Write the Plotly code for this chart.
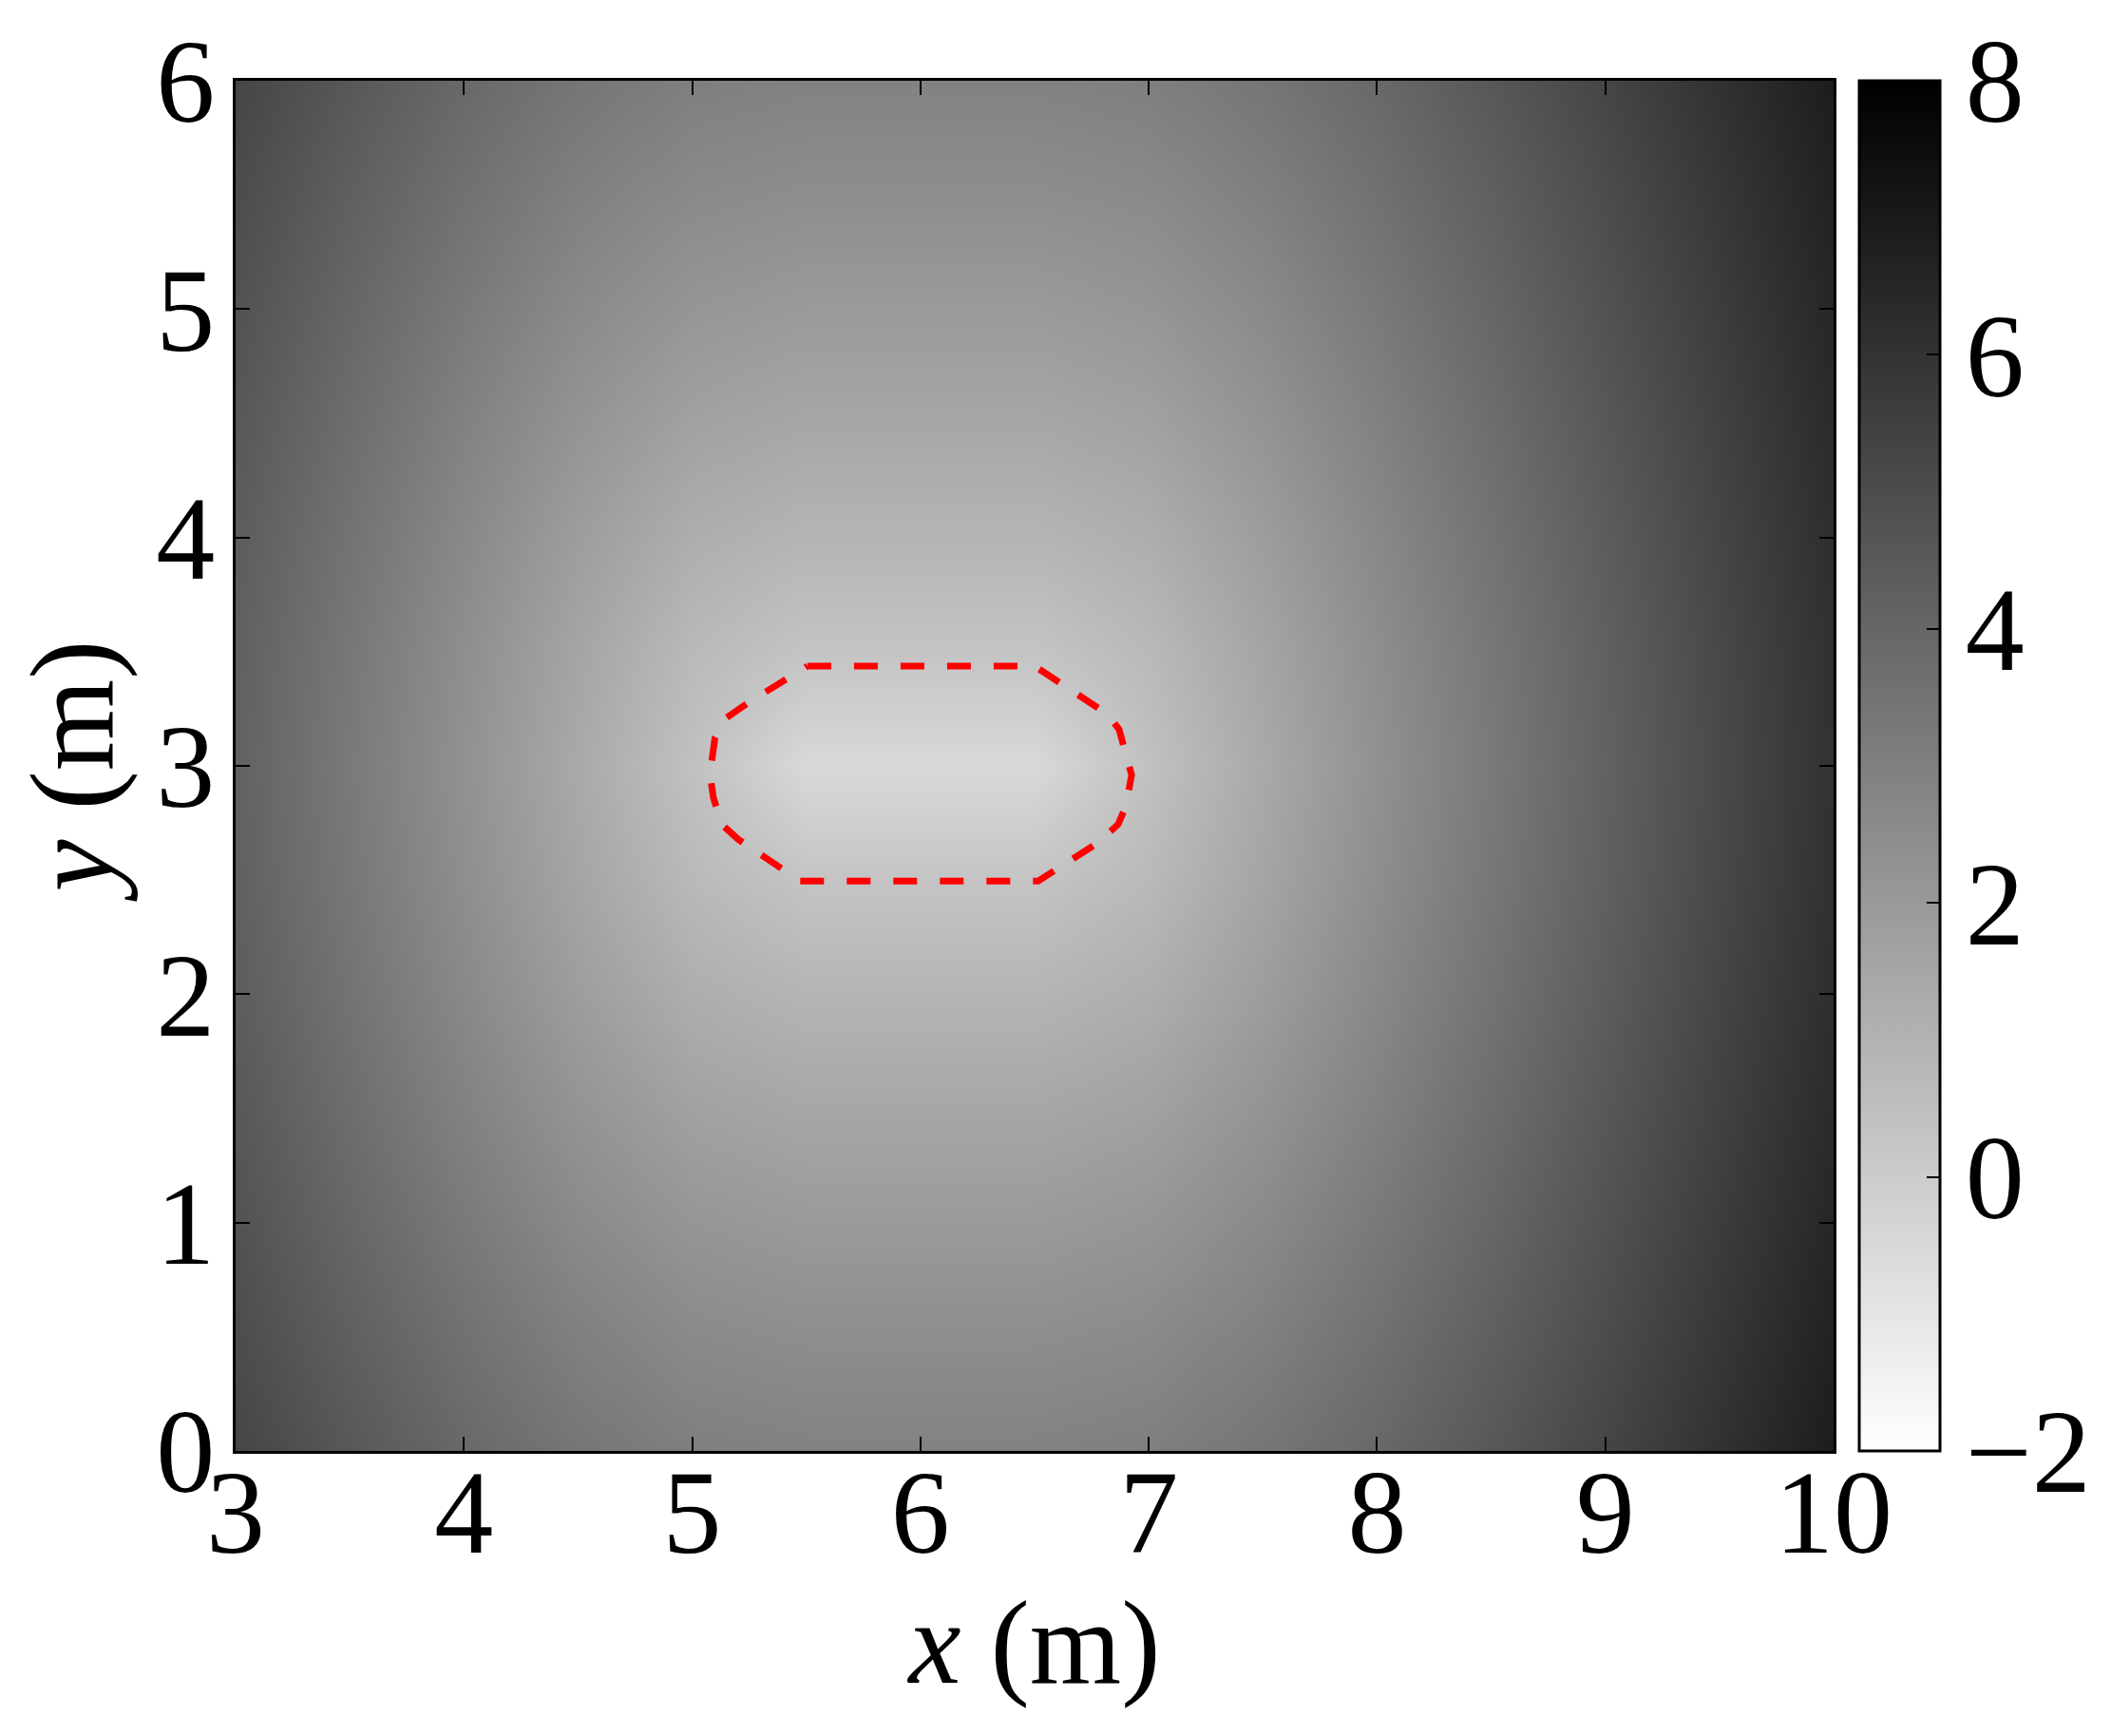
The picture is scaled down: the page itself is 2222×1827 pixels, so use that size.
import plotly.graph_objects as go

# Grid coordinates (m)
x_grid = [3.0, 3.5, 4.0, 4.5, 5.0, 5.5, 6.0, 6.5, 7.0, 7.5, 8.0, 8.5, 9.0, 9.5, 10.0]
y_grid = [0.0, 0.5, 1.0, 1.5, 2.0, 2.5, 3.0, 3.5, 4.0, 4.5, 5.0, 5.5, 6.0]

# Field values (rows = y from 0 to 6)
row_y0 = [5.29, 4.56, 3.91, 3.39, 3.03, 2.91, 2.91, 2.91, 3.03, 3.39, 3.91, 4.56, 5.29, 6.07, 6.88]
row_y05 = [5.02, 4.26, 3.57, 2.99, 2.59, 2.45, 2.45, 2.45, 2.59, 2.99, 3.57, 4.26, 5.02, 5.84, 6.68]
row_y1 = [4.79, 3.98, 3.24, 2.59, 2.14, 1.96, 1.96, 1.96, 2.14, 2.59, 3.24, 3.98, 4.79, 5.63, 6.50]
row_y15 = [4.57, 3.72, 2.92, 2.21, 1.67, 1.46, 1.46, 1.46, 1.67, 2.21, 2.92, 3.72, 4.57, 5.44, 6.33]
row_y2 = [4.38, 3.50, 2.65, 1.84, 1.19, 0.92, 0.92, 0.92, 1.19, 1.84, 2.65, 3.50, 4.38, 5.29, 6.20]
row_y25 = [4.24, 3.33, 2.43, 1.54, 0.74, 0.31, 0.31, 0.31, 0.74, 1.54, 2.43, 3.33, 4.24, 5.17, 6.10]
row_y3 = [4.18, 3.24, 2.31, 1.37, 0.44, -0.50, -0.50, -0.50, 0.44, 1.37, 2.31, 3.24, 4.18, 5.11, 6.05]
row_y35 = [4.24, 3.33, 2.43, 1.54, 0.74, 0.31, 0.31, 0.31, 0.74, 1.54, 2.43, 3.33, 4.24, 5.17, 6.10]
row_y4 = [4.38, 3.50, 2.65, 1.84, 1.19, 0.92, 0.92, 0.92, 1.19, 1.84, 2.65, 3.50, 4.38, 5.29, 6.20]
row_y45 = [4.57, 3.72, 2.92, 2.21, 1.67, 1.46, 1.46, 1.46, 1.67, 2.21, 2.92, 3.72, 4.57, 5.44, 6.33]
row_y5 = [4.79, 3.98, 3.24, 2.59, 2.14, 1.96, 1.96, 1.96, 2.14, 2.59, 3.24, 3.98, 4.79, 5.63, 6.50]
row_y55 = [5.02, 4.26, 3.57, 2.99, 2.59, 2.45, 2.45, 2.45, 2.59, 2.99, 3.57, 4.26, 5.02, 5.84, 6.68]
row_y6 = [5.29, 4.56, 3.91, 3.39, 3.03, 2.91, 2.91, 2.91, 3.03, 3.39, 3.91, 4.56, 5.29, 6.07, 6.88]
z_field = [row_y0, row_y05, row_y1, row_y15, row_y2, row_y25, row_y3,
           row_y35, row_y4, row_y45, row_y5, row_y55, row_y6]

# Red dashed boundary (m)
boundary_x = [5.505, 6.50, 6.82, 6.87, 6.90, 6.925, 6.90, 6.866, 6.779, 6.516,
              5.472, 5.202, 5.129, 5.093, 5.078, 5.085, 5.10, 5.151, 5.246, 5.505]
boundary_y = [3.437, 3.437, 3.226, 3.16, 3.05, 2.96, 2.824, 2.744, 2.664, 2.496,
              2.496, 2.678, 2.744, 2.861, 2.963, 3.01, 3.124, 3.211, 3.277, 3.437]

x_ticks = [3, 4, 5, 6, 7, 8, 9, 10]
y_ticks = [0, 1, 2, 3, 4, 5, 6]
cbar_ticks = [-2, 0, 2, 4, 6, 8]

FONT = "Liberation Serif"
FS = 124

# page body has an 8px margin; figure is sized so it fits the window
W, H = 2214, 1819
L, T = 240, 77
PW, PH = 1682, 1442
R, B = W - L - PW, H - T - PH

fig = go.Figure()
fig.add_trace(go.Heatmap(
    x=x_grid, y=y_grid, z=z_field,
    zmin=-2, zmax=8, zsmooth="best",
    colorscale=[[0, "rgb(255,255,255)"], [1, "rgb(0,0,0)"]],
    hoverinfo="skip",
    colorbar=dict(
        x=(1957 - 248) / PW, xanchor="left", xpad=0,
        y=0.5, yanchor="middle", len=1, lenmode="fraction", ypad=0,
        thickness=85, outlinewidth=3, outlinecolor="black",
        tickvals=cbar_ticks, ticks="inside", ticklen=15, tickwidth=2,
        tickcolor="black",
        tickfont=dict(family=FONT, size=FS, color="black"),
    ),
))
fig.add_trace(go.Scatter(
    x=boundary_x, y=boundary_y, mode="lines",
    line=dict(color="#ff0000", width=7, dash="25px,24px"),
    showlegend=False, hoverinfo="skip",
))

axis_common = dict(
    showgrid=False, zeroline=False, showline=True, linewidth=3,
    linecolor="black", mirror="ticks", ticks="inside", ticklen=15,
    tickwidth=2, tickcolor="black",
    tickfont=dict(family=FONT, size=FS, color="black"),
)
fig.update_layout(
    width=W, height=H,
    margin=dict(l=L, r=R, t=T, b=B, autoexpand=False),
    paper_bgcolor="white", plot_bgcolor="white",
    font=dict(family=FONT, size=FS, color="black"),
    xaxis=dict(range=[3, 10], tickvals=x_ticks, ticklabelstandoff=-45,
               title=dict(text="<i>x</i> (m)", font=dict(family=FONT, size=FS), standoff=15),
               **axis_common),
    yaxis=dict(range=[0, 6], tickvals=y_ticks, ticklabelstandoff=-6,
               title=dict(text="<i>y</i> (m)", font=dict(family=FONT, size=FS), standoff=6),
               **axis_common),
)
fig.write_html("out.html")
